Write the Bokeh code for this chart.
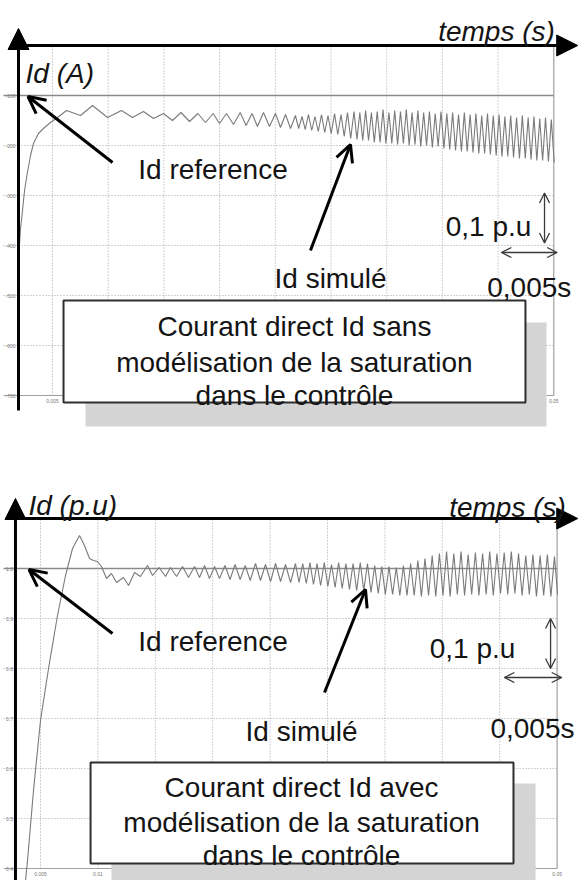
from bokeh.plotting import figure
from bokeh.layouts import column
from bokeh.models import Arrow, NormalHead, OpenHead, Label
from bokeh.embed import file_html
from bokeh.resources import INLINE
from bokeh.core.properties import value

FONT = "Liberation Sans"
INK = "#141414"

# ---------------- data ----------------
x_ticks_ms = [5, 10, 15, 20, 25, 30, 35, 40, 45, 50]
x_tick_labels = ["0.005", "0.01", "0.015", "0.02", "0.025", "0.03", "0.035", "0.04", "0.045", "0.05"]
y_levels = [1.0, 0.9, 0.8, 0.7, 0.6, 0.5, 0.4]
top_y_labels = ["-100", "-200", "-300", "-400", "-500", "-600", "-700"]
bottom_y_labels = ["1.0", "0.9", "0.8", "0.7", "0.6", "0.5", "0.4"]
y_axis_top = 1.1
id_ref = 1.0

# top panel: Id simulated, without saturation modelling (time in ms, value in p.u.)
t_top_ms = [2.00, 2.13, 2.28, 2.49, 2.73, 3.03, 3.29, 3.74, 4.28, 4.82, 5.45,
            6.26, 7.51, 8.59, 9.94, 11.19, 12.18, 13.17, 14.07, 14.96, 15.77,
            16.54, 17.30, 18.05, 18.73, 19.42, 19.99, 20.62, 21.25, 21.85, 22.38,
            22.91, 23.40, 23.94, 24.48, 25.02, 25.47, 25.92, 26.37, 26.81,
            27.10, 27.40, 27.69, 27.98, 28.27, 28.56, 28.86, 29.15, 29.44, 29.73,
            30.02, 30.32, 30.61, 30.90, 31.19, 31.48, 31.77, 32.07,
            32.33, 32.59, 32.85, 33.11, 33.37, 33.63, 33.89, 34.15, 34.41, 34.67,
            34.93, 35.20, 35.46, 35.72, 35.98, 36.24, 36.50, 36.76, 37.02, 37.28,
            37.54, 37.80, 38.06, 38.32, 38.58, 38.84, 39.10, 39.36, 39.62, 39.88,
            40.14, 40.40, 40.66, 40.92, 41.18, 41.45, 41.71, 41.97, 42.23, 42.49,
            42.75, 43.01, 43.27, 43.53, 43.79, 44.05, 44.31, 44.57, 44.83, 45.09,
            45.35, 45.61, 45.87, 46.13, 46.39, 46.66, 46.92, 47.18, 47.44, 47.70,
            47.96, 48.22, 48.48, 48.74, 49.00, 49.26, 49.52, 49.78, 50.04]
id_top = [0.690, 0.734, 0.764, 0.810, 0.844, 0.880, 0.904, 0.924, 0.936, 0.946, 0.956,
          0.970, 0.960, 0.980, 0.956, 0.970, 0.956, 0.968, 0.954, 0.964, 0.950,
          0.966, 0.948, 0.964, 0.946, 0.964, 0.944, 0.964, 0.942, 0.966, 0.940,
          0.964, 0.938, 0.966, 0.938, 0.964, 0.936, 0.962, 0.934, 0.960,
          0.934, 0.958, 0.932, 0.962, 0.930, 0.958, 0.928, 0.962, 0.926, 0.960,
          0.924, 0.964, 0.922, 0.962, 0.918, 0.966, 0.914, 0.968,
          0.912, 0.966, 0.910, 0.970, 0.910, 0.966, 0.906, 0.968, 0.906, 0.972,
          0.904, 0.966, 0.904, 0.970, 0.902, 0.968, 0.904, 0.972, 0.900, 0.966,
          0.902, 0.970, 0.898, 0.966, 0.900, 0.968, 0.896, 0.964, 0.898, 0.968,
          0.894, 0.964, 0.892, 0.966, 0.890, 0.962, 0.888, 0.966, 0.888, 0.962,
          0.886, 0.964, 0.884, 0.960, 0.884, 0.964, 0.882, 0.960, 0.880, 0.962,
          0.878, 0.958, 0.878, 0.960, 0.876, 0.956, 0.874, 0.960, 0.874, 0.956,
          0.872, 0.958, 0.870, 0.954, 0.870, 0.956, 0.868, 0.952, 0.866]

# bottom panel: Id simulated, with saturation modelling
t_bot_ms = [3.65, 3.87, 4.39, 5.00, 5.70, 6.48, 7.18, 7.79, 8.40, 8.83, 9.27, 9.62,
            9.97, 10.31, 10.75, 11.18, 11.62, 12.23, 12.67, 13.19, 13.71, 14.32,
            14.76, 15.33, 15.89, 16.32, 16.85, 17.37, 17.89, 18.42, 18.85, 19.29,
            19.72, 20.16, 20.59, 21.07, 21.51, 21.95, 22.39, 22.83, 23.27, 23.73,
            24.16, 24.60, 25.04, 25.47, 25.91, 26.34, 26.78, 27.21,
            27.52, 27.84, 28.15, 28.47, 28.78, 29.09, 29.40, 29.72, 30.03, 30.35,
            30.66, 30.97, 31.28, 31.60, 31.91, 32.23, 32.54, 32.85, 33.16, 33.48,
            33.79, 34.11, 34.42, 34.73, 35.04, 35.36, 35.67, 35.99, 36.30, 36.61,
            36.92, 37.24, 37.55, 37.87, 38.18, 38.49, 38.80, 39.12, 39.43, 39.75,
            40.06, 40.37, 40.68, 41.00, 41.31, 41.63, 41.94, 42.25, 42.56, 42.88,
            43.19, 43.51, 43.82, 44.13, 44.44, 44.76, 45.07, 45.39, 45.70, 46.01,
            46.32, 46.64, 46.95, 47.27, 47.58, 47.89, 48.20, 48.52, 48.83, 49.15,
            49.46, 49.77, 50.04]
id_bot = [0.366, 0.416, 0.556, 0.696, 0.800, 0.906, 0.986, 1.040, 1.066, 1.046, 1.020, 1.016,
          1.014, 1.004, 0.980, 0.990, 0.972, 0.982, 0.966, 0.992, 0.984, 1.006,
          0.986, 1.002, 0.984, 1.002, 0.984, 1.004, 0.982, 1.004, 0.982, 1.006,
          0.980, 1.004, 0.980, 1.006, 0.978, 1.008, 0.978, 1.006, 0.976, 1.010,
          0.976, 1.008, 0.974, 1.010, 0.974, 1.008, 0.972, 1.010,
          0.972, 1.010, 0.970, 1.012, 0.968, 1.010, 0.966, 1.012, 0.964, 1.008,
          0.962, 1.012, 0.960, 1.010, 0.958, 1.010, 0.956, 1.012, 0.956, 1.010,
          0.952, 1.006, 0.950, 1.004, 0.948, 1.004, 0.948, 1.002, 0.946, 1.006,
          0.946, 1.010, 0.946, 1.016, 0.944, 1.020, 0.946, 1.026, 0.944, 1.030,
          0.946, 1.034, 0.944, 1.030, 0.948, 1.034, 0.946, 1.028, 0.948, 1.032,
          0.946, 1.030, 0.948, 1.034, 0.946, 1.030, 0.950, 1.032, 0.948, 1.034,
          0.950, 1.030, 0.946, 1.026, 0.948, 1.028, 0.944, 1.026, 0.946, 1.028,
          0.944, 1.024, 0.948]


def base_fig(xr, yr, w, h):
    p = figure(width=w, height=h, x_range=xr, y_range=yr, output_backend="svg",
               toolbar_location=None, x_axis_location=None, y_axis_location=None,
               min_border=0, outline_line_color=None,
               background_fill_color="white", border_fill_color="white")
    p.xgrid.visible = False
    p.ygrid.visible = False
    return p


def panel(xr, yr, w, h, t_axis, t_left, t_ylab, ylabels, t_data, id_data, cfg):
    p = base_fig(xr, yr, w, h)
    t_end = x_ticks_ms[-1]
    y_bot = y_levels[-1]
    n = len(x_ticks_ms)
    # grid
    p.segment(x0=x_ticks_ms[:-1], y0=[y_bot] * (n - 1), x1=x_ticks_ms[:-1], y1=[y_axis_top] * (n - 1),
              line_color="#a5a5a5", line_dash="1 2", line_width=1)
    lv = y_levels[1:-1]
    p.segment(x0=[t_left] * len(lv), y0=lv, x1=[t_end] * len(lv), y1=lv,
              line_color="#a5a5a5", line_dash="1 2", line_width=1)
    p.segment(x0=[t_left, t_end], y0=[y_bot, y_bot], x1=[t_end, t_end], y1=[y_bot, y_axis_top],
              line_color="#a0a0a0", line_width=1.2)
    # tick labels
    p.text(x=x_ticks_ms, y=[cfg["xlab_y"]] * n, text=x_tick_labels, text_font=value(FONT),
           text_font_size="5px", text_color="#777777", text_align="center", text_baseline="middle")
    p.text(x=[t_ylab] * len(y_levels), y=y_levels, text=ylabels, text_font=value(FONT),
           text_font_size="5px", text_color="#777777", text_align="center", text_baseline="middle")
    # reference and simulated current
    p.line([t_left, t_end], [id_ref, id_ref], line_color="#8a8a8a", line_width=1.6)
    p.line(t_data, id_data, line_color="#7a7a7a", line_width=1.1)
    # caption box with shadow
    sx0, sx1, sy0, sy1 = cfg["shadow"]
    p.quad(left=[sx0], right=[sx1], bottom=[sy0], top=[sy1], fill_color="#d4d4d4", line_color=None)
    bx0, bx1, by0, by1 = cfg["box"]
    p.quad(left=[bx0], right=[bx1], bottom=[by0], top=[by1], fill_color="white",
           line_color="#2e2e2e", line_width=2)
    # axes arrows
    p.add_layout(Arrow(end=NormalHead(size=21, fill_color="black", line_color="black"),
                       x_start=t_axis, y_start=y_axis_top, x_end=cfg["xtip"], y_end=y_axis_top,
                       line_color="black", line_width=3))
    p.add_layout(Arrow(end=NormalHead(size=21, fill_color="black", line_color="black"),
                       x_start=t_axis, y_start=cfg["ybot"], x_end=t_axis, y_end=cfg["ytip"],
                       line_color="black", line_width=3))
    # annotation arrows
    for (x0, y0, x1, y1) in cfg["arrows"]:
        p.add_layout(Arrow(end=OpenHead(size=17, line_width=3, line_color="black"),
                           x_start=x0, y_start=y0, x_end=x1, y_end=y1,
                           line_color="black", line_width=3))
    for (x0, y0, x1, y1) in cfg["scales"]:
        p.add_layout(Arrow(start=OpenHead(size=10, line_width=1.3, line_color="#3a3a3a"),
                           end=OpenHead(size=10, line_width=1.3, line_color="#3a3a3a"),
                           x_start=x0, y_start=y0, x_end=x1, y_end=y1,
                           line_color="#3a3a3a", line_width=1.3))
    for (tx, ty, txt, align, style) in cfg["labels"]:
        p.add_layout(Label(x=tx, y=ty, text=txt, text_font=FONT, text_font_size="28px",
                           text_font_style=style, text_color=INK, text_align=align,
                           text_baseline="alphabetic"))
    return p


top_cfg = dict(
    xlab_y=0.39,
    shadow=(7.96, 49.35, 0.338, 0.546),
    box=(5.99, 47.46, 0.386, 0.590),
    xtip=52.15, ybot=0.37, ytip=1.134,
    arrows=[(10.39, 0.866, 2.80, 0.998), (28.16, 0.690, 31.75, 0.902)],
    scales=[(49.17, 0.805, 49.17, 0.705), (45.3, 0.686, 50.3, 0.686)],
    labels=[(44.86, 1.128, "temps (s)", "center", "italic"),
            (2.58, 1.044, "Id (A)", "left", "italic"),
            (19.41, 0.852, "Id reference", "center", "normal"),
            (29.96, 0.634, "Id simulé", "center", "normal"),
            (44.14, 0.738, "0,1 p.u", "center", "normal"),
            (47.80, 0.616, "0,005s", "center", "normal"),
            (26.72, 0.538, "Courant direct Id sans", "center", "normal"),
            (26.72, 0.466, "modélisation de la saturation", "center", "normal"),
            (26.72, 0.400, "dans le contrôle", "center", "normal")],
)

bot_cfg = dict(
    xlab_y=0.39,
    shadow=(11.18, 48.12, 0.30, 0.570),
    box=(9.36, 46.20, 0.410, 0.612),
    xtip=51.80, ybot=0.30, ytip=1.14,
    arrows=[(11.27, 0.870, 4.00, 0.998), (29.74, 0.752, 33.31, 0.958)],
    scales=[(49.43, 0.900, 49.43, 0.800), (45.4, 0.782, 50.4, 0.782)],
    labels=[(45.68, 1.122, "temps (s)", "center", "italic"),
            (3.95, 1.127, "Id (p.u)", "left", "italic"),
            (20.03, 0.855, "Id reference", "center", "normal"),
            (27.74, 0.674, "Id simulé", "center", "normal"),
            (42.63, 0.840, "0,1 p.u", "center", "normal"),
            (47.85, 0.680, "0,005s", "center", "normal"),
            (27.74, 0.563, "Courant direct Id avec", "center", "normal"),
            (27.74, 0.493, "modélisation de la saturation", "center", "normal"),
            (27.74, 0.426, "dans le contrôle", "center", "normal")],
)

p1 = panel((0.332, 52.31), (0.31, 1.19), 579, 440, 1.948, 0.60, 1.23,
           top_y_labels, t_top_ms, id_top, top_cfg)
p2 = panel((1.516, 51.95), (0.376, 1.256), 579, 440, 2.82, 1.78, 2.30,
           bottom_y_labels, t_bot_ms, id_bot, bot_cfg)

layout = column(p1, p2, spacing=0)
open("out.html", "w").write(file_html(layout, INLINE))
